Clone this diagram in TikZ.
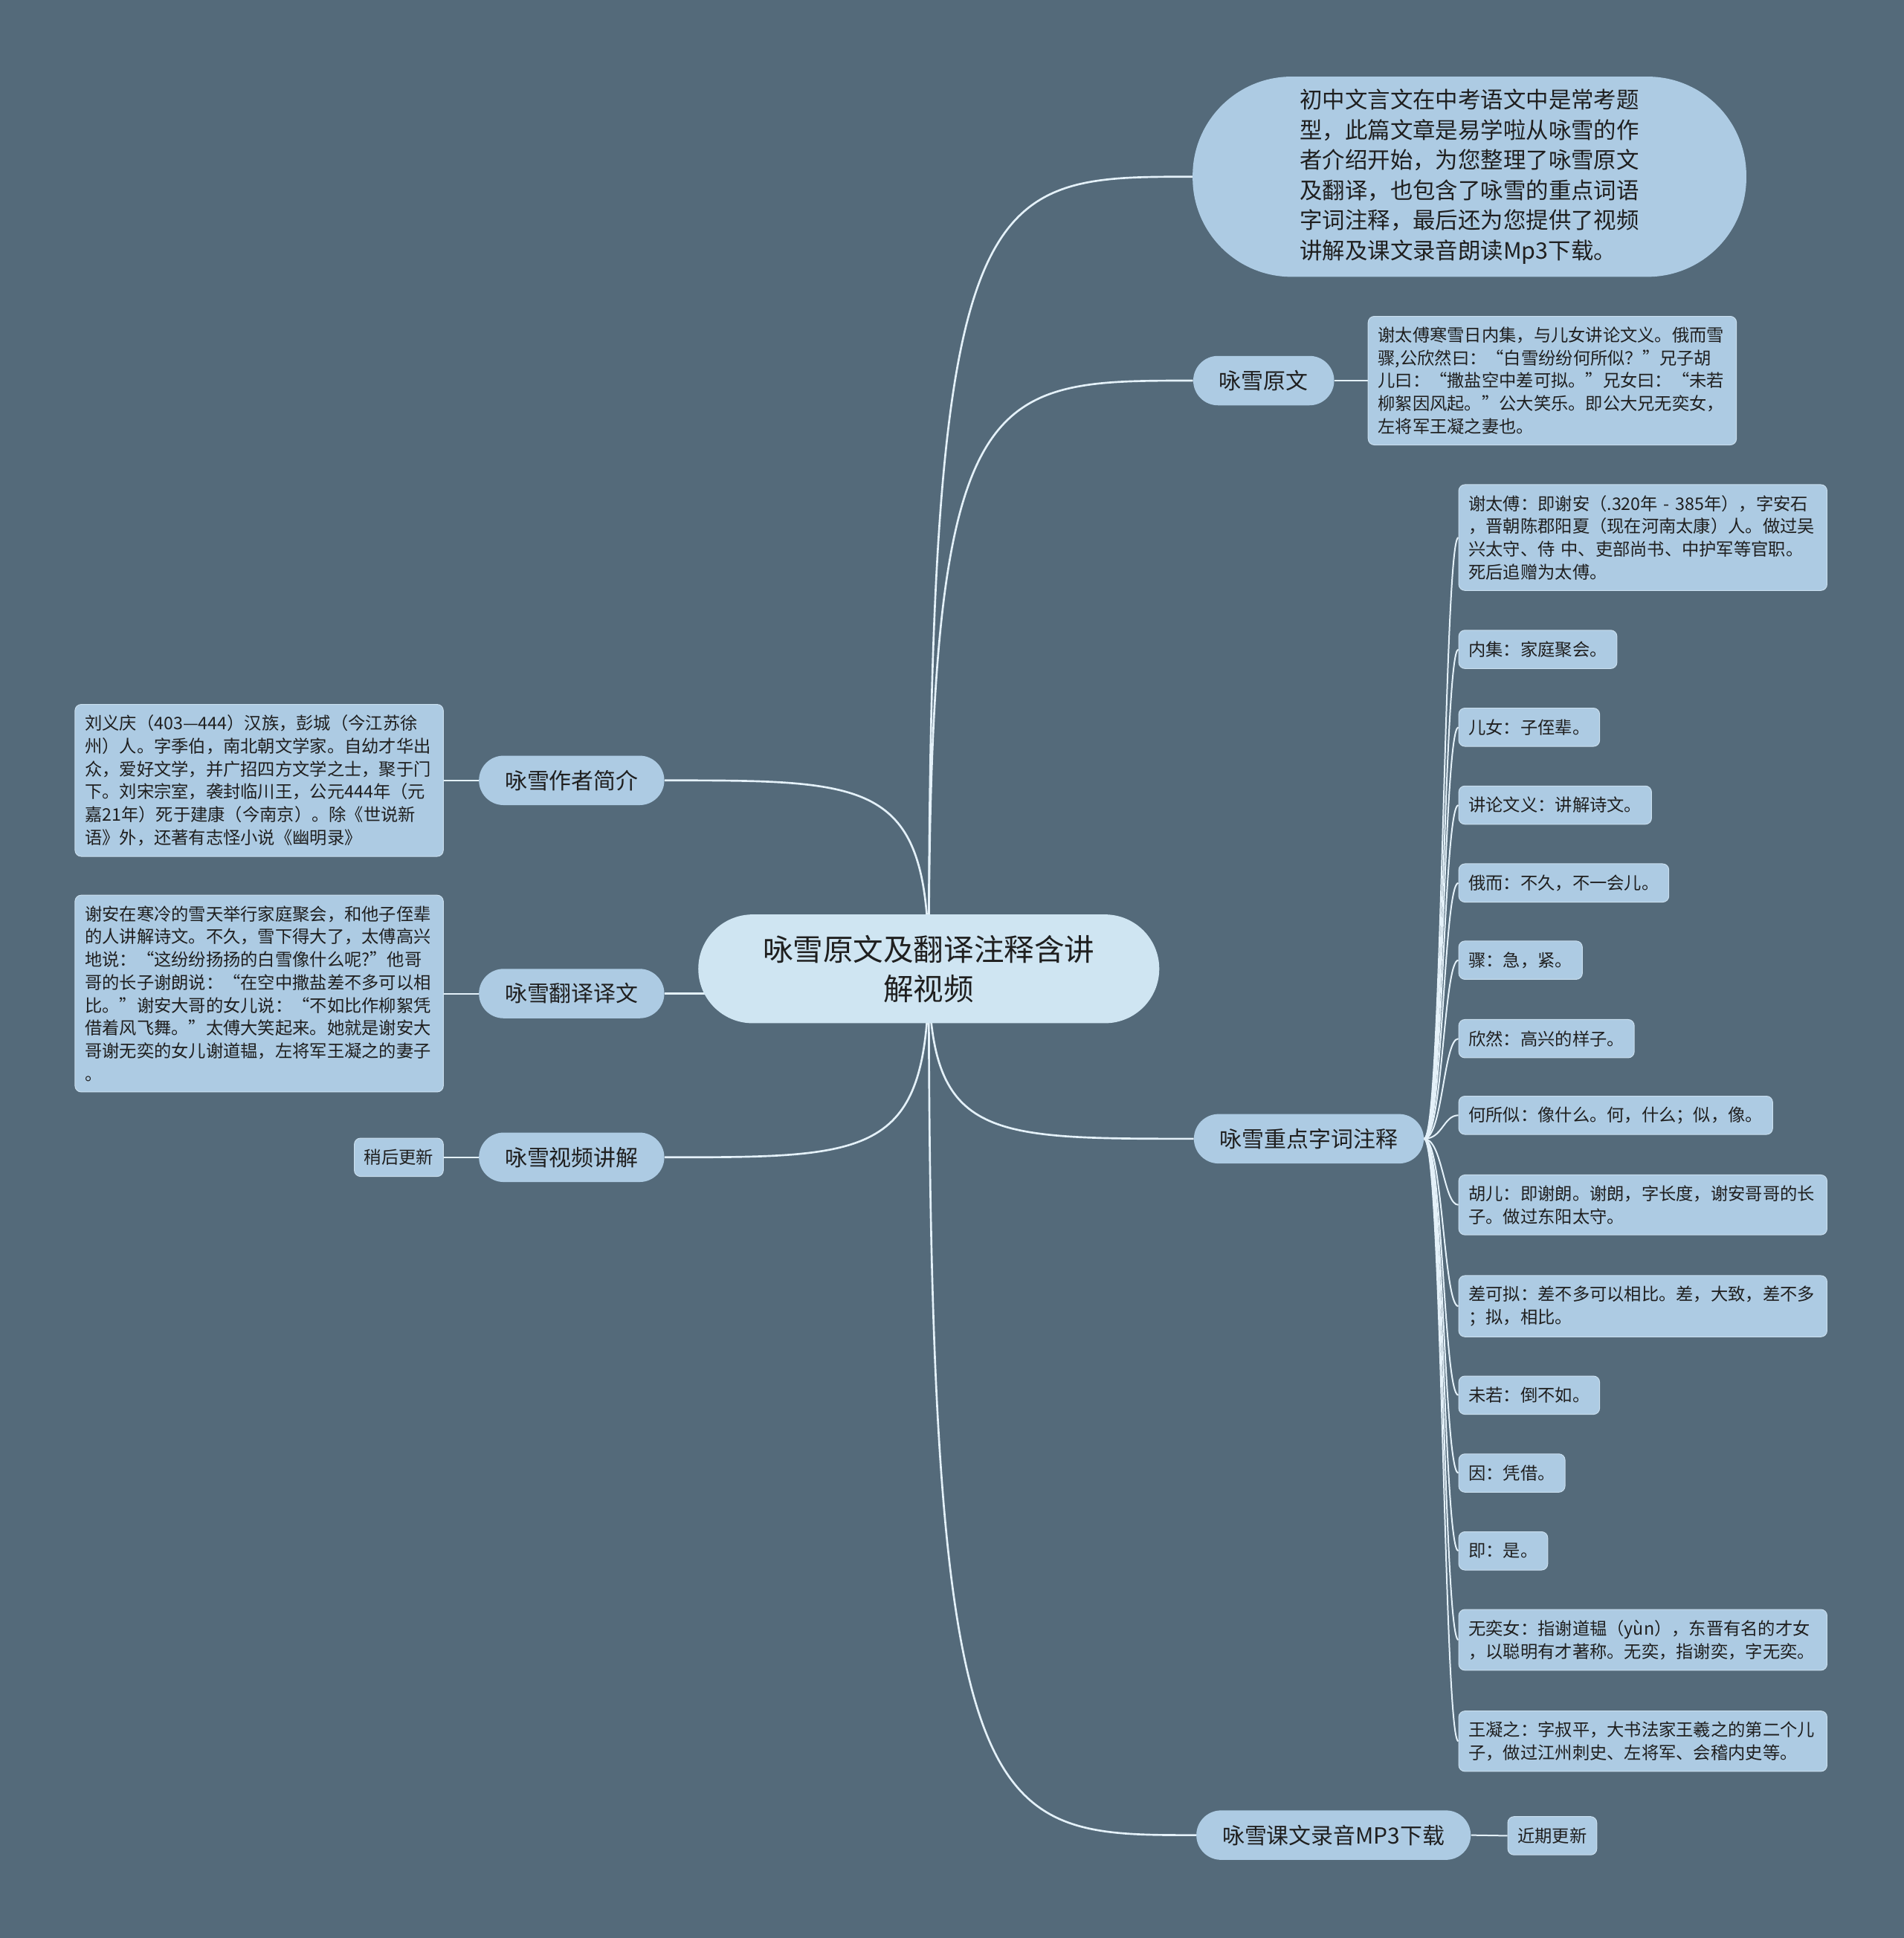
\documentclass[tikz,border=0pt]{standalone}
\usepackage{fontspec}
\setmainfont{Noto Sans CJK SC}
\usetikzlibrary{backgrounds}

\definecolor{bgcol}{HTML}{546A7A}
\definecolor{leafcol}{HTML}{ADCBE3}
\definecolor{rootcol}{HTML}{CFE5F2}
\definecolor{linecol}{HTML}{E4F1F9}
\definecolor{txtcol}{HTML}{1F1F1F}

\begin{document}
\begin{tikzpicture}[x=1pt,y=-1pt,
  root/.style={fill=rootcol,rounded corners=44pt,minimum width=373pt,minimum height=88pt,align=center,text=txtcol,font=\fontsize{24.4}{32}\selectfont},
  intro/.style={fill=leafcol,rounded corners=80pt,minimum width=448pt,minimum height=162pt,align=left,text=txtcol,font=\fontsize{18.3}{24.4}\selectfont},
  branch/.style={fill=leafcol,rounded corners=20pt,minimum height=40pt,inner xsep=21pt,text=txtcol,font=\fontsize{18}{22}\selectfont},
  leaf/.style={fill=leafcol,draw=linecol!50!leafcol,line width=0.6pt,rounded corners=5pt,minimum height=31pt,inner xsep=8pt,inner ysep=8.5pt,text=txtcol,font=\fontsize{14}{18.5}\selectfont},
  bigleaf/.style={leaf,text width=282pt,align=left},
  link/.style={draw=linecol,line width=1.6pt},
  twig/.style={draw=linecol,line width=1.2pt}]
  \useasboundingbox (0,0) rectangle (1540,1568.26);

  \node[root] (root) at (751.5,784) {咏雪原文及翻译注释含讲\\解视频};

  % right side
  \node[intro] (intro) at (1189,143) {初中文言文在中考语文中是常考题\\
    型，此篇文章是易学啦从咏雪的作\\
    者介绍开始，为您整理了咏雪原文\\
    及翻译，也包含了咏雪的重点词语\\
    字词注释，最后还为您提供了视频\\
    讲解及课文录音朗读Mp3下载。};
  \node[branch] (yw) at (1022.5,308) {咏雪原文};
  \node[bigleaf] (ywleaf) at (1256,308) {谢太傅寒雪日内集，与儿女讲论文义。俄而雪\\
    骤,公欣然曰：“白雪纷纷何所似？”兄子胡\\
    儿曰：“撒盐空中差可拟。”兄女曰：“未若\\
    柳絮因风起。”公大笑乐。即公大兄无奕女，\\
    左将军王凝之妻也。};
  \node[branch] (zd) at (1059,921.5) {咏雪重点字词注释};
  \node[branch] (mp3) at (1079,1485) {咏雪课文录音MP3下载};
  \node[leaf] (mp3leaf) at (1256,1485.5) {近期更新};

  \node[bigleaf,anchor=west] (z1) at (1180,435) {谢太傅：即谢安（.320年~-~385年），字安石\\
    ，晋朝陈郡阳夏（现在河南太康）人。做过吴\\
    兴太守、侍~中、吏部尚书、中护军等官职。\\
    死后追赠为太傅。};
  \node[leaf,anchor=west] (z2) at (1180,525.5) {内集：家庭聚会。};
  \node[leaf,anchor=west] (z3) at (1180,588.5) {儿女：子侄辈。};
  \node[leaf,anchor=west] (z4) at (1180,651.5) {讲论文义：讲解诗文。};
  \node[leaf,anchor=west] (z5) at (1180,714.5) {俄而：不久，不一会儿。};
  \node[leaf,anchor=west] (z6) at (1180,777) {骤：急，紧。};
  \node[leaf,anchor=west] (z7) at (1180,840.5) {欣然：高兴的样子。};
  \node[leaf,anchor=west] (z8) at (1180,902.5) {何所似：像什么。何，什么；似，像。};
  \node[bigleaf,anchor=west] (z9) at (1180,975) {胡儿：即谢朗。谢朗，字长度，谢安哥哥的长\\
    子。做过东阳太守。};
  \node[bigleaf,anchor=west] (z10) at (1180,1057) {差可拟：差不多可以相比。差，大致，差不多\\
    ；拟，相比。};
  \node[leaf,anchor=west] (z11) at (1180,1129) {未若：倒不如。};
  \node[leaf,anchor=west] (z12) at (1180,1192) {因：凭借。};
  \node[leaf,anchor=west] (z13) at (1180,1255) {即：是。};
  \node[bigleaf,anchor=west] (z14) at (1180,1327) {无奕女：指谢道韫（yùn），东晋有名的才女\\
    ，以聪明有才著称。无奕，指谢奕，字无奕。};
  \node[bigleaf,anchor=west] (z15) at (1180,1409) {王凝之：字叔平，大书法家王羲之的第二个儿\\
    子，做过江州刺史、左将军、会稽内史等。};

  % left side
  \node[branch] (zz) at (462.5,631.5) {咏雪作者简介};
  \node[bigleaf,anchor=east] (zzleaf) at (359,631.5) {刘义庆（403—444）汉族，彭城（今江苏徐\\
    州）人。字季伯，南北朝文学家。自幼才华出\\
    众，爱好文学，并广招四方文学之士，聚于门\\
    下。刘宋宗室，袭封临川王，公元444年（元\\
    嘉21年）死于建康（今南京）。除《世说新\\
    语》外，还著有志怪小说《幽明录》};
  \node[branch] (fy) at (462.5,804) {咏雪翻译译文};
  \node[bigleaf,anchor=east] (fyleaf) at (359,804) {谢安在寒冷的雪天举行家庭聚会，和他子侄辈\\
    的人讲解诗文。不久，雪下得大了，太傅高兴\\
    地说：“这纷纷扬扬的白雪像什么呢?”他哥\\
    哥的长子谢朗说：“在空中撒盐差不多可以相\\
    比。”谢安大哥的女儿说：“不如比作柳絮凭\\
    借着风飞舞。”太傅大笑起来。她就是谢安大\\
    哥谢无奕的女儿谢道韫，左将军王凝之的妻子\\
    。};
  \node[branch] (sp) at (462.5,936.5) {咏雪视频讲解};
  \node[leaf,anchor=east] (spleaf) at (359,936.5) {稍后更新};

  \begin{scope}[on background layer]
    \fill[bgcol] (-5,-5) rectangle (1550,1575);
    \foreach \b in {intro,yw,zd,mp3}
      \draw[link] (root.center) .. controls (root.center |- \b.west) and ([xshift=-170pt]\b.west) .. (\b.west);
    \foreach \b in {zz,fy,sp}
      \draw[link] (root.center) .. controls (root.center |- \b.east) and ([xshift=170pt]\b.east) .. (\b.east);
    \foreach \i in {1,...,15}
      \draw[twig] (zd.east) .. controls +(15,0) and +(-12,0) .. (z\i.west);
    \draw[twig] (yw.east) -- (ywleaf.west);
    \draw[twig] (mp3.east) -- (mp3leaf.west);
    \draw[twig] (zz.west) -- (zzleaf.east);
    \draw[twig] (fy.west) -- (fyleaf.east);
    \draw[twig] (sp.west) -- (spleaf.east);
  \end{scope}
\end{tikzpicture}
\end{document}
